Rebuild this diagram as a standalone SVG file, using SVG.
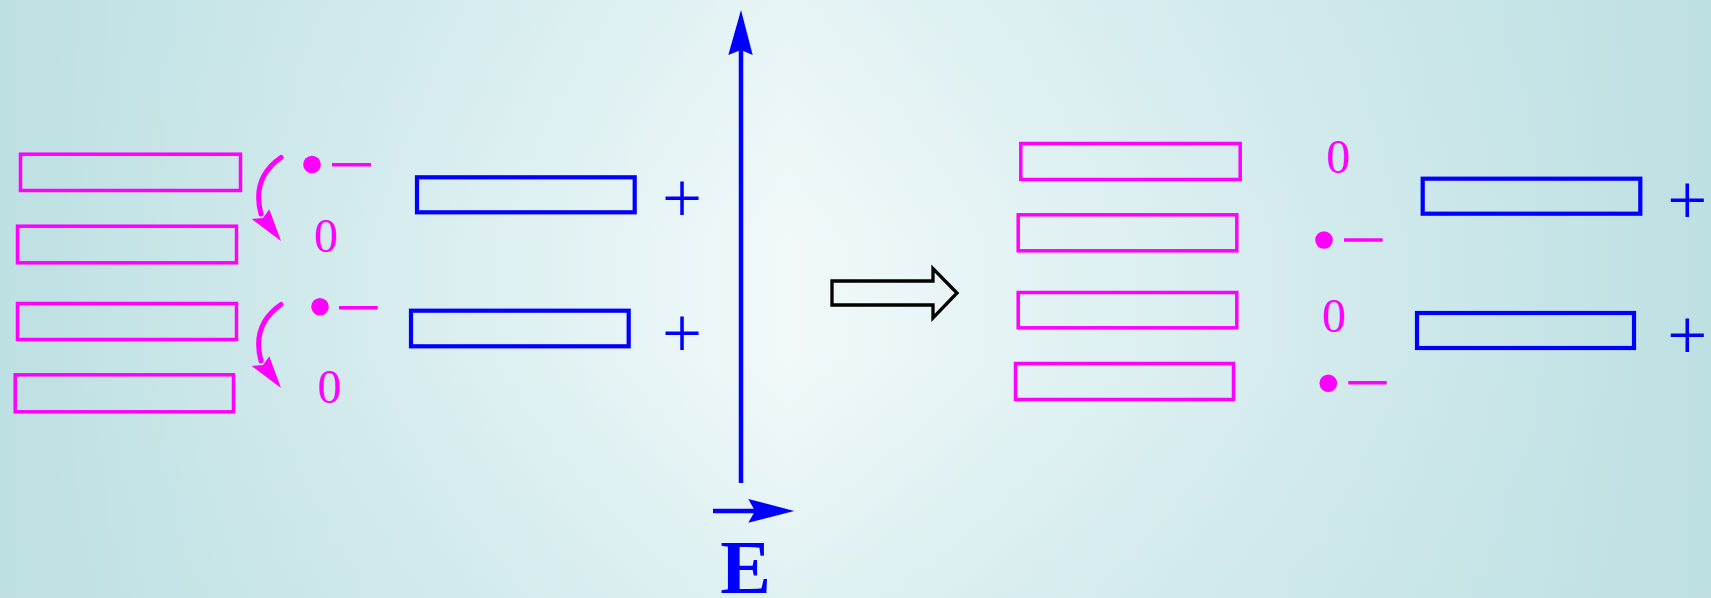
<svg xmlns="http://www.w3.org/2000/svg" width="1711" height="598" viewBox="0 0 1711 598">
<defs>
<linearGradient id="bgH" x1="0" y1="0" x2="1" y2="0">
<stop offset="0" stop-color="#bde0e3"/>
<stop offset="0.46" stop-color="#f1f9fa"/>
<stop offset="1" stop-color="#bde0e3"/>
</linearGradient>
<linearGradient id="bgV" x1="0" y1="0" x2="0" y2="1">
<stop offset="0" stop-color="#bde0e3" stop-opacity="0.2"/>
<stop offset="0.4" stop-color="#bde0e3" stop-opacity="0"/>
<stop offset="0.6" stop-color="#bde0e3" stop-opacity="0"/>
<stop offset="1" stop-color="#bde0e3" stop-opacity="0.3"/>
</linearGradient>
<style>
.mr{fill:none;stroke:#ff00ff;stroke-width:3.5}
.br{fill:none;stroke:#0000ff;stroke-width:4.2}
.dot{fill:#ff00ff}
.dash{stroke:#ff00ff;stroke-width:3.5}
.zero{font-family:"Liberation Serif","Times New Roman",serif;font-size:48px;fill:#ff00ff;text-anchor:middle}
.plus{font-family:"Liberation Serif","Times New Roman",serif;font-size:71px;fill:#0000ff;text-anchor:middle}
.curve{fill:none;stroke:#ff00ff;stroke-width:5;stroke-linecap:round}
</style>
</defs>
<rect width="1711" height="598" fill="url(#bgH)"/>
<rect width="1711" height="598" fill="url(#bgV)"/>

<g id="left-magenta">
<rect class="mr" x="20.5" y="154.2" width="220" height="36.3"/>
<rect class="mr" x="17.5" y="226.2" width="219" height="36.6"/>
<rect class="mr" x="17.5" y="303.5" width="219" height="36"/>
<rect class="mr" x="15.2" y="374.8" width="218.3" height="37"/>
</g>
<g id="left-blue">
<rect class="br" x="417" y="177.3" width="217.7" height="35"/>
<rect class="br" x="411" y="310.7" width="217.7" height="35.6"/>
</g>
<g id="left-charges">
<circle class="dot" cx="312" cy="164.5" r="8.8"/>
<line class="dash" x1="332" y1="164.7" x2="371" y2="164.7"/>
<circle class="dot" cx="320" cy="306.8" r="8.8"/>
<line class="dash" x1="339" y1="307.7" x2="377.7" y2="307.7"/>
<text class="zero" x="326" y="252">0</text>
<text class="zero" x="329.5" y="402.6">0</text>
<text class="plus" x="682" y="222">+</text>
<text class="plus" x="682" y="356.7">+</text>
</g>
<g id="connectors">
<path class="curve" d="M281,157.5 C263,170 254,188 261,214"/>
<polygon fill="#ff00ff" points="281,241 251.7,219 263,218 269.3,209.3"/>
<path class="curve" d="M281,304.5 C263,317 254,335 261,361"/>
<polygon fill="#ff00ff" points="281,388 251.7,366 263,365 269.3,356.3"/>
<line x1="741" y1="483" x2="741" y2="48" stroke="#0000ff" stroke-width="4.5"/>
<polygon fill="#0000ff" points="741,10 728.3,55 741,50 752.7,55"/>
<line x1="713" y1="511" x2="756" y2="511" stroke="#0000ff" stroke-width="4.5"/>
<polygon fill="#0000ff" points="794.3,511 748.3,499 755,511 748.3,522.7"/>
<polygon fill="none" stroke="#000" stroke-width="3.3" stroke-linejoin="miter" points="832,281 933,281 933,268.5 957,293 933,318 933,305 832,305"/>
</g>
<g id="E-label">
<text x="745.5" y="593" font-family="'Liberation Serif','Times New Roman',serif" font-weight="bold" font-size="76" fill="#0000ff" text-anchor="middle">E</text>
</g>
<g id="right-magenta">
<rect class="mr" x="1020.8" y="143.5" width="219.4" height="36"/>
<rect class="mr" x="1018.2" y="214.8" width="218.6" height="36"/>
<rect class="mr" x="1018.2" y="292.5" width="218.6" height="35.3"/>
<rect class="mr" x="1015.5" y="363.5" width="218" height="36"/>
</g>
<g id="right-blue">
<rect class="br" x="1422.7" y="178.7" width="217.6" height="35"/>
<rect class="br" x="1417" y="313" width="217" height="35"/>
</g>
<g id="right-charges">
<text class="zero" x="1338.3" y="172.6">0</text>
<circle class="dot" cx="1324" cy="240" r="8.8"/>
<line class="dash" x1="1344" y1="240" x2="1382.7" y2="240"/>
<text class="zero" x="1334" y="331.6">0</text>
<circle class="dot" cx="1328.3" cy="383.3" r="8.8"/>
<line class="dash" x1="1348.3" y1="382.7" x2="1386.7" y2="382.7"/>
<text class="plus" x="1687.3" y="223.5">+</text>
<text class="plus" x="1687.3" y="358.5">+</text>
</g>
</svg>
